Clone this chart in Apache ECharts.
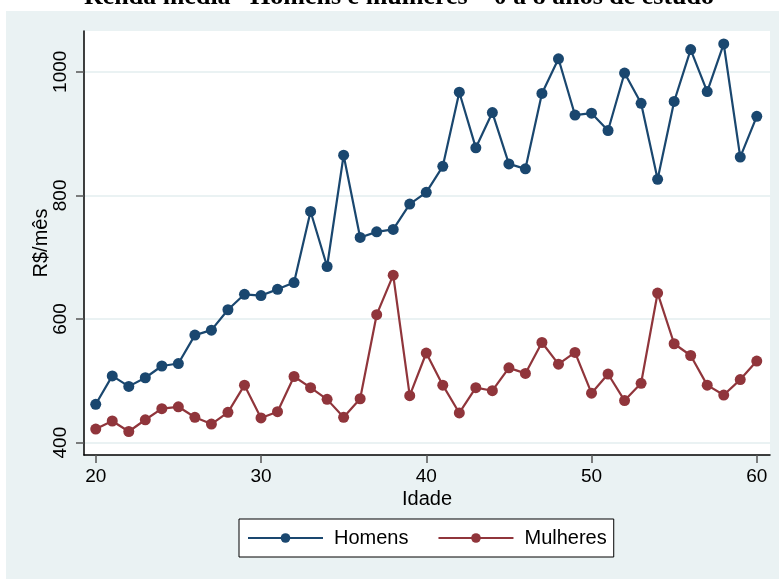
<!DOCTYPE html>
<html>
<head>
<meta charset="utf-8">
<script src="https://cdn.jsdelivr.net/npm/echarts@6/dist/echarts.min.js"></script>
<style>
html,body{margin:0;padding:0;background:#ffffff;}
#chart{width:779px;height:579px;}
</style>
</head>
<body>
<div id="chart"></div>
<script>
const ages = [20,21,22,23,24,25,26,27,28,29,30,31,32,33,34,35,36,37,38,39,40,41,42,43,44,45,46,47,48,49,50,51,52,53,54,55,56,57,58,59,60];
const homens = [462,508,491,505,524,528,574,582,615,640,638,648,659,774,685,865,732,741,745,786,805,847,967,877,934,851,843,965,1021,930,933,905,998,949,826,952,1036,968,1045,862,928];
const mulheres = [422,435,418,437,455,458,441,430,449,493,440,450,507,489,470,441,471,607,671,476,545,493,448,489,484,521,512,562,527,546,480,511,468,496,642,560,541,493,477,502,532];
const xTicks = [20,30,40,50,60];
const yTicks = [400,600,800,1000];
const titleText = 'Renda média– Homens e mulheres – 0 a 8 anos de estudo';

const chart = echarts.init(document.getElementById('chart'), null, {renderer:'canvas'});
const fontSans = 'Liberation Sans, Arial, sans-serif';
chart.setOption({
  animation: false,
  backgroundColor: '#ffffff',
  title: {
    text: titleText,
    left: 79,
    top: -21,
    textStyle: {fontFamily: 'Liberation Serif, Times New Roman, serif', fontWeight: 'bold', fontSize: 26, color: '#000'}
  },
  graphic: [{
    type: 'rect', left: 6, top: 11, z: -10, silent: true,
    shape: {width: 773, height: 568},
    style: {fill: '#eaf2f3'}
  }],
  grid: {
    left: 84, right: 9, top: 31, bottom: 124,
    show: true, backgroundColor: '#ffffff', borderWidth: 0
  },
  xAxis: {
    type: 'value', min: 19.29, max: 60.8,
    name: 'Idade', nameLocation: 'middle', nameGap: 34, nameMoveOverlap: false,
    nameTextStyle: {fontFamily: fontSans, fontSize: 20, color: '#000'},
    axisLine: {show: true, lineStyle: {color: '#000', width: 1.5}},
    axisTick: {show: true, length: 8, customValues: xTicks, lineStyle: {color: '#555', width: 1.5}},
    axisLabel: {customValues: xTicks, margin: 12, fontFamily: fontSans, fontSize: 19, color: '#000', formatter: v => String(v)},
    splitLine: {show: false}
  },
  yAxis: {
    type: 'value', min: 380, max: 1066,
    name: 'R$/mês', nameLocation: 'middle', nameGap: 33, nameMoveOverlap: false,
    nameTextStyle: {fontFamily: fontSans, fontSize: 20, color: '#000'},
    axisLine: {show: true, lineStyle: {color: '#000', width: 1.5}},
    axisTick: {show: true, length: 8, customValues: yTicks, lineStyle: {color: '#555', width: 1.5}},
    axisLabel: {customValues: yTicks, rotate: 90, margin: 14, fontFamily: fontSans, fontSize: 19, color: '#000', formatter: v => String(v)},
    splitLine: {show: true, lineStyle: {color: '#eaf2f3', width: 2}}
  },
  legend: {
    left: 239, top: 519,
    orient: 'horizontal',
    backgroundColor: '#ffffff', borderColor: '#000', borderWidth: 1,
    padding: [9, 7, 9, 8],
    itemWidth: 75, itemHeight: 12, itemGap: 29,
    textStyle: {fontFamily: fontSans, fontSize: 20, color: '#000', padding: [0,0,0,6]},
    data: ['Homens', 'Mulheres']
  },
  series: [
    {
      name: 'Homens', type: 'line',
      data: ages.map((a, i) => [a, homens[i]]),
      symbol: 'circle', symbolSize: 11,
      lineStyle: {color: '#1a476f', width: 2.2},
      itemStyle: {color: '#1a476f'}
    },
    {
      name: 'Mulheres', type: 'line',
      data: ages.map((a, i) => [a, mulheres[i]]),
      symbol: 'circle', symbolSize: 11,
      lineStyle: {color: '#90353b', width: 2.2},
      itemStyle: {color: '#90353b'}
    }
  ]
});
</script>
</body>
</html>
